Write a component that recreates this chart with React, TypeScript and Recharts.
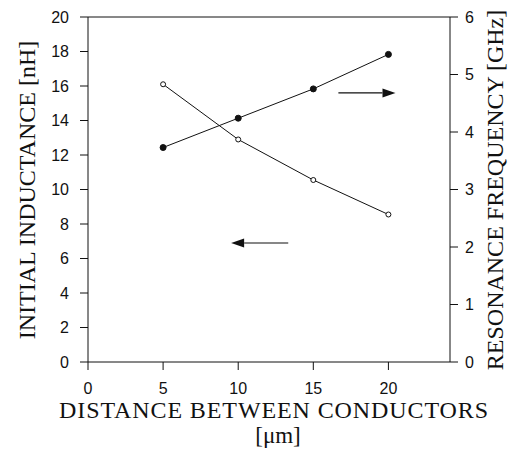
import { LineChart, Line, XAxis, YAxis, ReferenceLine } from "recharts"

// distance between conductors [um]
const distances = [5, 10, 15, 20]
// initial inductance [nH] (open circles, left axis)
const inductance = [16.1, 12.9, 10.55, 8.55]
// resonance frequency [GHz] (filled circles, right axis)
const frequency = [3.73, 4.24, 4.75, 5.35]

const xTicks = [0, 5, 10, 15, 20]
const leftTicks = [0, 2, 4, 6, 8, 10, 12, 14, 16, 18, 20]
const rightTicks = [0, 1, 2, 3, 4, 5, 6]

// arrow annotations in data units (left axis scale): [xFrom, xTo, y]
const leftArrow = [13.33, 9.53, 6.9]
const rightArrow = [16.67, 20.47, 15.6]

const data = distances.map((d, i) => ({
  d,
  inductance: inductance[i],
  frequency: frequency[i],
}))

const INK = "#111"
const tickFont = { fontFamily: "'Liberation Sans', Arial, sans-serif", fontSize: 16, fill: INK }
const titleFont = "'Liberation Serif', 'Times New Roman', serif"

const Arrow = (p: any) => {
  const { x1, y1, x2, y2 } = p
  const dir = x2 > x1 ? 1 : -1
  const headLen = 13
  const half = 4.5
  const bx = x2 - dir * headLen
  return (
    <g>
      <line x1={x1} y1={y1} x2={bx} y2={y2} stroke={INK} strokeWidth={1.2} />
      <polygon points={`${x2},${y2} ${bx},${y2 - half} ${bx},${y2 + half}`} fill={INK} />
    </g>
  )
}

const XTitle = (p: any) => {
  const vb = p.viewBox || { x: 88, y: 362, width: 362 }
  const cx = vb.x + vb.width / 2 + 5
  return (
    <g fontFamily={titleFont} fill={INK}>
      <text x={cx} y={vb.y + 56} textAnchor="middle" fontSize={24} letterSpacing={0.9}>
        DISTANCE BETWEEN CONDUCTORS
      </text>
      <text x={cx + 4} y={vb.y + 81} textAnchor="middle" fontSize={23}>
        [μm]
      </text>
    </g>
  )
}

const LeftTitle = () => (
  <text
    x={27}
    y={190}
    transform="rotate(-90, 27, 190)"
    textAnchor="middle"
    dominantBaseline="central"
    fontFamily={titleFont}
    fontSize={24}
    fill={INK}
  >
    INITIAL INDUCTANCE [nH]
  </text>
)

const RightTitle = () => (
  <text
    x={495}
    y={190}
    transform="rotate(-90, 495, 190)"
    textAnchor="middle"
    dominantBaseline="central"
    fontFamily={titleFont}
    fontSize={24}
    fill={INK}
  >
    RESONANCE FREQUENCY [GHz]
  </text>
)

export default function App() {
  return (
    <div style={{ width: 514, height: 450, background: "#fff" }}>
      <style>{`body{margin:0}`}</style>
      <LineChart width={514} height={450} data={data} margin={{ top: 17, right: 0, bottom: 0, left: 0 }}>
        <XAxis
          dataKey="d"
          type="number"
          domain={[0, 24.1]}
          ticks={xTicks}
          height={88}
          tickSize={8}
          tickMargin={13}
          tick={tickFont}
          stroke={INK}
          axisLine={{ stroke: INK }}
          tickLine={{ stroke: INK }}
          label={(p: any) => <XTitle {...p} />}
        />
        <YAxis
          yAxisId="left"
          orientation="left"
          domain={[0, 20]}
          ticks={leftTicks}
          width={88}
          tickSize={8}
          tickMargin={11}
          tick={tickFont}
          axisLine={{ stroke: INK }}
          tickLine={{ stroke: INK }}
          label={() => <LeftTitle />}
        />
        <YAxis
          yAxisId="right"
          orientation="right"
          domain={[0, 6]}
          ticks={rightTicks}
          width={64}
          tickSize={8}
          tickMargin={7}
          tick={tickFont}
          axisLine={{ stroke: INK }}
          tickLine={{ stroke: INK }}
          label={() => <RightTitle />}
        />
        <ReferenceLine yAxisId="left" y={20} stroke={INK} strokeWidth={1} />
        <ReferenceLine
          yAxisId="left"
          segment={[{ x: leftArrow[0], y: leftArrow[2] }, { x: leftArrow[1], y: leftArrow[2] }]}
          shape={Arrow}
        />
        <ReferenceLine
          yAxisId="left"
          segment={[{ x: rightArrow[0], y: rightArrow[2] }, { x: rightArrow[1], y: rightArrow[2] }]}
          shape={Arrow}
        />
        <Line
          yAxisId="left"
          dataKey="inductance"
          type="linear"
          stroke={INK}
          strokeWidth={1}
          dot={{ r: 2.5, fill: "#fff", stroke: INK, strokeWidth: 1 }}
          isAnimationActive={false}
        />
        <Line
          yAxisId="right"
          dataKey="frequency"
          type="linear"
          stroke={INK}
          strokeWidth={1}
          dot={{ r: 3, fill: INK, stroke: INK, strokeWidth: 1 }}
          isAnimationActive={false}
        />
      </LineChart>
    </div>
  )
}
